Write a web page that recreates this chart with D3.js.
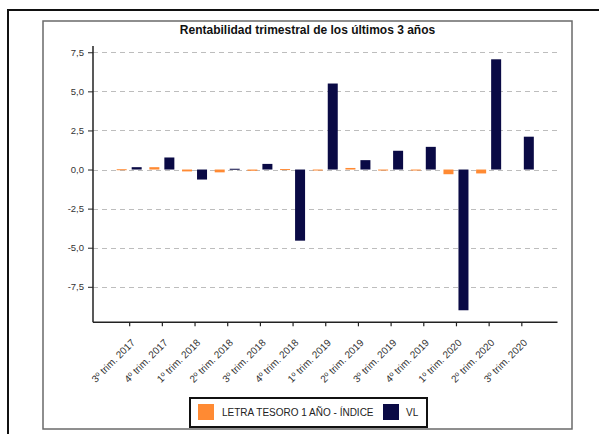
<!DOCTYPE html>
<html><head><meta charset="utf-8">
<script src="https://cdn.jsdelivr.net/npm/d3@7/dist/d3.min.js"></script>
<style>body{margin:0;background:#fff;}svg{display:block;font-family:"Liberation Sans",Arial,sans-serif;}</style>
</head><body>
<svg id="c" width="599" height="434"></svg>
<script>
const categories = ["3º trim. 2017","4º trim. 2017","1º trim. 2018","2º trim. 2018","3º trim. 2018","4º trim. 2018","1º trim. 2019","2º trim. 2019","3º trim. 2019","4º trim. 2019","1º trim. 2020","2º trim. 2020","3º trim. 2020"];
const letraValues = [0.02,0.15,-0.12,-0.18,-0.08,0.03,-0.03,0.1,-0.02,-0.02,-0.3,-0.25,0.0];
const vlValues = [0.15,0.77,-0.64,0.05,0.36,-4.55,5.5,0.6,1.2,1.45,-9.0,7.05,2.1];
const seriesNames = ["LETRA TESORO 1 AÑO - ÍNDICE","VL"];
const yTicks = [-7.5,-5,-2.5,0,2.5,5,7.5];
const colors = {"LETRA TESORO 1 AÑO - ÍNDICE":"#FF8A33","VL":"#0A0A45"};

const svg = d3.select("#c");
// outer frame
svg.append("rect").attr("x",8).attr("y",10).attr("width",620).attr("height",460)
  .attr("fill","none").attr("stroke","#111").attr("stroke-width",2);
// inner frame
svg.append("rect").attr("x",43).attr("y",21).attr("width",529).attr("height",408)
  .attr("fill","none").attr("stroke","#6a6a6a").attr("stroke-width",1.5);

svg.append("text").attr("x",307.5).attr("y",34).attr("text-anchor","middle")
  .attr("font-size",12).attr("font-weight","bold").attr("fill","#111")
  .text("Rentabilidad trimestral de los últimos 3 años");

const x0 = 93, x1 = 557.5, yTop = 46, yBot = 322.3;
const x = d3.scalePoint().domain(categories).range([x0,x1]).padding(1.107);
const y = d3.scaleLinear().domain([-9.77,7.9]).range([yBot,yTop]);
const xs = d3.scaleBand().domain(seriesNames).range([-17,17]).paddingInner(1/3).paddingOuter(0.3);

// grid
svg.append("g").selectAll("line").data(yTicks).join("line")
  .attr("x1",x0).attr("x2",x1).attr("y1",d=>Math.round(y(d))+0.5).attr("y2",d=>Math.round(y(d))+0.5)
  .attr("stroke","#bdbdbd").attr("stroke-width",1).attr("stroke-dasharray","5,4");

// bars
const rows = categories.map((c,i)=>({c, vals:[{s:seriesNames[0],v:letraValues[i]},{s:seriesNames[1],v:vlValues[i]}]}));
svg.append("g").selectAll("g").data(rows).join("g")
  .attr("transform",d=>`translate(${x(d.c)},0)`)
  .selectAll("rect").data(d=>d.vals).join("rect")
  .attr("x",d=>xs(d.s)).attr("width",xs.bandwidth())
  .attr("y",d=>Math.min(y(d.v),y(0))).attr("height",d=>Math.max(Math.abs(y(d.v)-y(0)),d.v===0?0:1))
  .attr("fill",d=>colors[d.s]);

// y axis
const fmt = v => d3.format(".1f")(v).replace(".",",").replace("−","-");
const ya = svg.append("g").attr("transform",`translate(${x0},0)`)
  .call(d3.axisLeft(y).tickValues(yTicks).tickSize(5).tickPadding(4).tickFormat(fmt));
ya.select(".domain").attr("stroke","#222").attr("stroke-width",1.5).attr("d",`M0,${yTop}V${yBot}`);
ya.selectAll(".tick line").attr("stroke","#222");
ya.selectAll("text").attr("font-size",9.5).attr("fill","#333").attr("font-family","Liberation Sans, Arial, sans-serif");

// x axis
const xa = svg.append("g").attr("transform",`translate(0,${yBot})`)
  .call(d3.axisBottom(x).tickSize(4).tickPadding(3));
xa.select(".domain").attr("stroke","#222").attr("stroke-width",1.5).attr("d",`M${x0},0H${x1}`);
xa.selectAll(".tick line").attr("stroke","#222").attr("stroke-width",1.2);
xa.selectAll("text").attr("font-size",10).attr("fill","#333").attr("font-family","Liberation Sans, Arial, sans-serif")
  .attr("text-anchor","end").attr("x",0).attr("y",0).attr("dy",0).attr("transform","translate(6,21) rotate(-45)");

// legend
const lg = svg.append("g");
lg.append("rect").attr("x",190).attr("y",398).attr("width",237).attr("height",29)
  .attr("fill","#fff").attr("stroke","#111").attr("stroke-width",2);
lg.append("rect").attr("x",198).attr("y",404).attr("width",16).attr("height",16).attr("fill",colors[seriesNames[0]]);
lg.append("text").attr("x",222).attr("y",416).attr("font-size",10).attr("fill","#222").text(seriesNames[0]);
lg.append("rect").attr("x",383).attr("y",404).attr("width",16).attr("height",16).attr("fill",colors[seriesNames[1]]);
lg.append("text").attr("x",406).attr("y",416).attr("font-size",10).attr("fill","#222").text(seriesNames[1]);
</script>
</body></html>
